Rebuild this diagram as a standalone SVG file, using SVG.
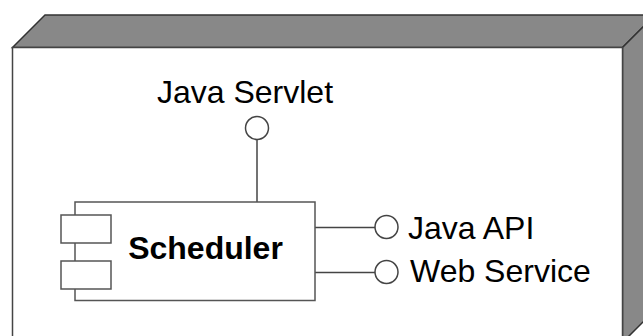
<svg xmlns="http://www.w3.org/2000/svg" width="643" height="336" viewBox="0 0 643 336">
<style>
.edge{stroke:#444;stroke-width:1.5;fill:none}
.shade{fill:#888;stroke:#333;stroke-width:1.5;stroke-linejoin:miter}
.face{fill:#fff;stroke:#444;stroke-width:1.5}
.box{fill:#fff;stroke:#555;stroke-width:1.5}
.lolli{fill:#fff;stroke:#444;stroke-width:1.5}
.lbl{font-family:"Liberation Sans",Arial,sans-serif;font-size:32px;fill:#000}
.name{font-family:"Liberation Sans",Arial,sans-serif;font-size:32px;font-weight:bold;fill:#000}
</style>
<g id="node">
<polygon class="shade" points="12.5,47.5 45,15 655,15 622.5,47.5"/>
<polygon class="shade" points="622.5,47.5 655,15 655,310 622.5,342.5"/>
<rect class="face" x="12.5" y="47.5" width="610" height="295"/>
</g>
<g id="connectors">
<line class="edge" x1="257" y1="139.5" x2="257" y2="202"/>
<line class="edge" x1="315" y1="227.5" x2="375" y2="227.5"/>
<line class="edge" x1="315" y1="272.5" x2="375" y2="272.5"/>
</g>
<g id="scheduler">
<rect class="box" x="75" y="202" width="240" height="98.5"/>
<rect class="box" x="61" y="215" width="50" height="28"/>
<rect class="box" x="61" y="261" width="50" height="28"/>
<text class="name" x="205.5" y="259" text-anchor="middle">Scheduler</text>
</g>
<g id="java-servlet">
<circle class="lolli" cx="257" cy="128" r="11.5"/>
<text class="lbl" x="245" y="103" text-anchor="middle">Java Servlet</text>
</g>
<g id="java-api">
<circle class="lolli" cx="386.5" cy="227" r="11.5"/>
<text class="lbl" x="408" y="239">Java API</text>
</g>
<g id="web-service">
<circle class="lolli" cx="386.5" cy="272" r="11.5"/>
<text class="lbl" x="410" y="282">Web Service</text>
</g>
</svg>
